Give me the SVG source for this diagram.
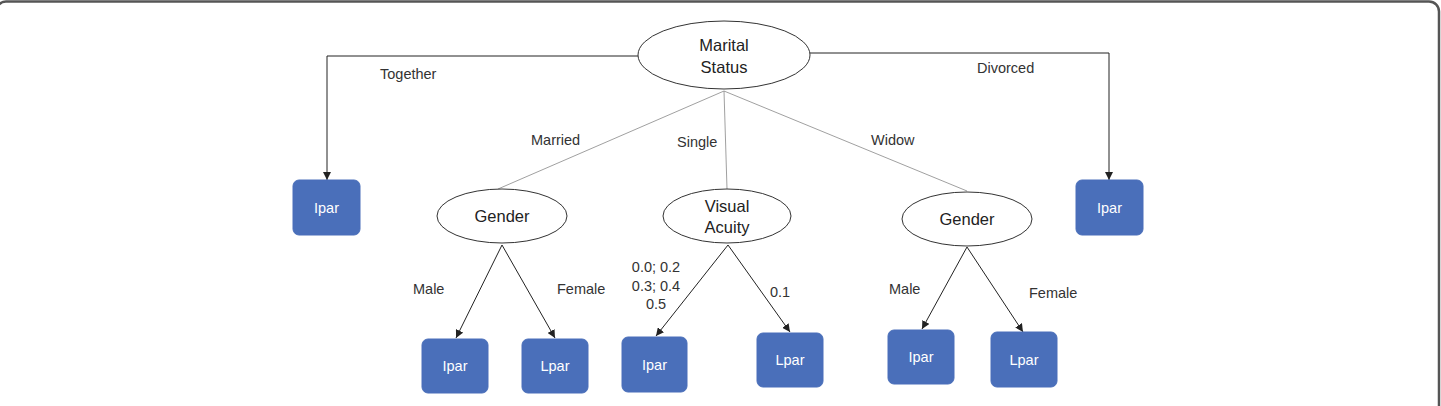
<svg xmlns="http://www.w3.org/2000/svg" width="1441" height="406" viewBox="0 0 1441 406">
<defs>
<style>
.node ellipse{fill:#fff;stroke:#333;stroke-width:1}
.node text{font-family:"Liberation Sans",Arial,sans-serif;font-size:16.5px;fill:#222;text-anchor:middle}
.leaf rect{fill:#4A6FBA;stroke:#4A6FBA;stroke-width:1}
.leaf text{font-family:"Liberation Sans",Arial,sans-serif;font-size:14.5px;fill:#fff;text-anchor:middle}
.lbl{font-family:"Liberation Sans",Arial,sans-serif;font-size:14.5px;fill:#333}
.arr{fill:none;stroke:#222;stroke-width:1;marker-end:url(#ah)}
.thin{fill:none;stroke:#888;stroke-width:0.8}
</style>
<marker id="ah" viewBox="0 0 10 10" refX="10" refY="5" markerWidth="8" markerHeight="8" markerUnits="userSpaceOnUse" orient="auto">
<path d="M0,0 L10,5 L0,10 z" fill="#222"/>
</marker>
</defs>
<rect x="-4" y="1.5" width="1443" height="440" rx="10" fill="#fff" stroke="#555" stroke-width="2.5"/>
<g id="connectors">
<path class="arr" d="M638,56 H327 V180"/>
<path class="arr" d="M810,53 H1109 V180"/>
<line class="thin" x1="724" y1="91" x2="498" y2="189"/>
<line class="thin" x1="724" y1="91" x2="727" y2="189"/>
<line class="thin" x1="724" y1="91" x2="967" y2="191"/>
<line class="arr" x1="502" y1="245" x2="456" y2="338"/>
<line class="arr" x1="502" y1="245" x2="555" y2="338"/>
<line class="arr" x1="728" y1="245" x2="656" y2="336"/>
<line class="arr" x1="728" y1="245" x2="790" y2="332"/>
<line class="arr" x1="967" y1="247" x2="922" y2="329"/>
<line class="arr" x1="967" y1="247" x2="1023" y2="332"/>
<text class="lbl" x="380" y="79">Together</text>
<text class="lbl" x="977" y="73">Divorced</text>
<text class="lbl" x="531" y="145">Married</text>
<text class="lbl" x="677" y="147">Single</text>
<text class="lbl" x="871" y="145">Widow</text>
<text class="lbl" x="413" y="294">Male</text>
<text class="lbl" x="557" y="294">Female</text>
<text class="lbl" x="656" y="272" text-anchor="middle">0.0; 0.2</text>
<text class="lbl" x="656" y="291" text-anchor="middle">0.3; 0.4</text>
<text class="lbl" x="656" y="309" text-anchor="middle">0.5</text>
<text class="lbl" x="770" y="297">0.1</text>
<text class="lbl" x="889" y="294">Male</text>
<text class="lbl" x="1029" y="298">Female</text>
</g>
<g id="marital" class="node"><ellipse cx="724" cy="55" rx="86" ry="34"/><text x="724" y="51">Marital</text><text x="724" y="73">Status</text></g>
<g id="gender1" class="node"><ellipse cx="502" cy="216" rx="65" ry="27"/><text x="502" y="222">Gender</text></g>
<g id="visual" class="node"><ellipse cx="727" cy="216" rx="64" ry="27"/><text x="727" y="212">Visual</text><text x="727" y="233">Acuity</text></g>
<g id="gender2" class="node"><ellipse cx="967" cy="219" rx="65" ry="27"/><text x="967" y="225">Gender</text></g>
<g id="leaf1" class="leaf"><rect x="293" y="180" width="67" height="55" rx="6"/><text x="326.5" y="213">Ipar</text></g>
<g id="leaf2" class="leaf"><rect x="1076" y="180" width="67" height="55" rx="6"/><text x="1109.5" y="213">Ipar</text></g>
<g id="leaf3" class="leaf"><rect x="422" y="339" width="66" height="54" rx="6"/><text x="455" y="371">Ipar</text></g>
<g id="leaf4" class="leaf"><rect x="522" y="339" width="66" height="54" rx="6"/><text x="555" y="371">Lpar</text></g>
<g id="leaf5" class="leaf"><rect x="622" y="337" width="65" height="55" rx="6"/><text x="654.5" y="370">Ipar</text></g>
<g id="leaf6" class="leaf"><rect x="757" y="333" width="66" height="54" rx="6"/><text x="790" y="365">Lpar</text></g>
<g id="leaf7" class="leaf"><rect x="888" y="330" width="66" height="54" rx="6"/><text x="921" y="362">Ipar</text></g>
<g id="leaf8" class="leaf"><rect x="991" y="332" width="66" height="55" rx="6"/><text x="1024" y="365">Lpar</text></g>
</svg>
